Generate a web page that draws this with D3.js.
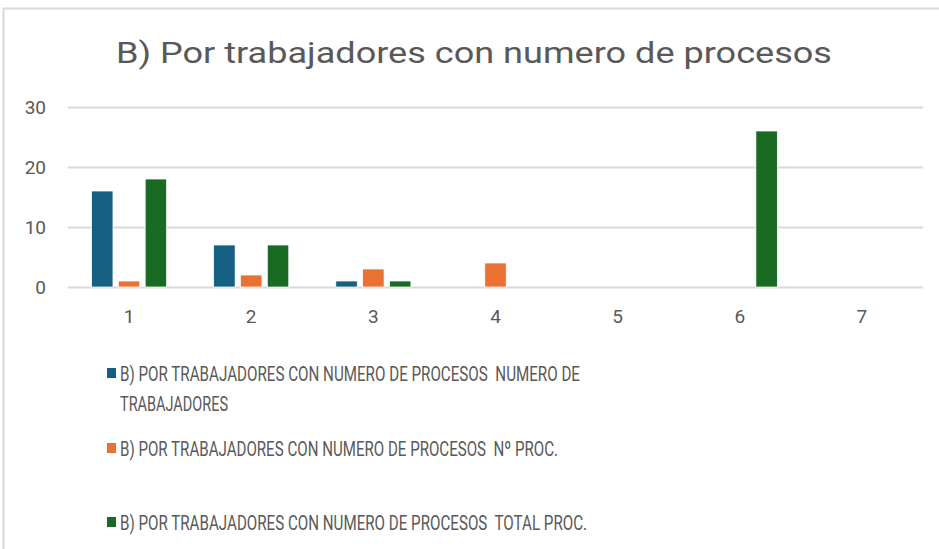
<!DOCTYPE html>
<html>
<head>
<meta charset="utf-8">
<script src="https://cdn.jsdelivr.net/npm/d3@7"></script>
<style>
  body { margin: 0; background: #fff; }
  text { font-family: "Liberation Sans Narrow", "Roboto", "Liberation Sans", sans-serif; fill: #595959; }
</style>
</head>
<body>
<div id="chart"></div>
<script>
/* Grouped bar chart: trabajadores / procesos */

const categories = ["1", "2", "3", "4", "5", "6", "7"];
const seriesNames = [
  "B) POR TRABAJADORES CON NUMERO DE PROCESOS  NUMERO DE TRABAJADORES",
  "B) POR TRABAJADORES CON NUMERO DE PROCESOS  Nº PROC.",
  "B) POR TRABAJADORES CON NUMERO DE PROCESOS  TOTAL PROC."
];
const numTrabajadores = [16, 7, 1, 0, 0, 0, 0];
const numProc = [1, 2, 3, 4, 0, 0, 0];
const totalProc = [18, 7, 1, 0, 0, 26, 0];
const yTicks = [0, 10, 20, 30];
const colors = ["#156082", "#E97132", "#196B24"];

const width = 939, height = 549,
    margin = ({ top: 107, right: 16, bottom: 262, left: 68 });

const svg = d3.select("#chart")
  .append("svg")
  .attr("width", width)
  .attr("height", height);

// chart area border (only top and left visible)
svg.append("path")
  .attr("d", `M3.5,${height} V8.5 H${width}`)
  .attr("fill", "none")
  .attr("stroke", "#d9d9d9")
  .attr("stroke-width", 2);

svg.append("text")
  .attr("x", 474)
  .attr("y", 63)
  .attr("text-anchor", "middle")
  .attr("font-size", 30)
  .attr("textLength", 716)
  .attr("lengthAdjust", "spacingAndGlyphs")
  .style("font-family", "Roboto, sans-serif")
  .text("B) Por trabajadores con numero de procesos");

const values = [numTrabajadores, numProc, totalProc];
const data = categories.map((c, i) => ({ cat: c, vals: values.map(s => s[i]) }));

let x0 = d3.scaleBand()
  .domain(categories)
  .range([margin.left, width - margin.right])
  .paddingInner(0.385)
  .paddingOuter(0.1925);

let x1 = d3.scaleBand()
  .domain(d3.range(seriesNames.length))
  .range([0, x0.bandwidth()])
  .paddingInner(0.2);

let y = d3.scaleLinear()
  .domain([0, 30])
  .range([height - margin.bottom, margin.top]);

// grid lines
svg.append("g")
  .attr("transform", `translate(${margin.left},0)`)
  .call(d3.axisLeft(y).tickValues(yTicks).tickSize(-(width - margin.left - margin.right)).tickFormat(""))
  .call(g => g.select(".domain").remove())
  .call(g => g.selectAll("line").attr("stroke", "#d9d9d9").attr("stroke-width", 2));

// y labels
svg.append("g")
  .attr("transform", `translate(${margin.left - 22},0)`)
  .call(d3.axisLeft(y).tickValues(yTicks).tickSize(0).tickPadding(0))
  .call(g => g.select(".domain").remove())
  .call(g => g.selectAll("text").attr("font-size", 19).attr("fill", "#595959")
    .style("font-family", "Roboto, sans-serif"));

// x labels
svg.append("g")
  .attr("transform", `translate(0,${height - margin.bottom + 22})`)
  .call(d3.axisBottom(x0).tickSize(0).tickPadding(0))
  .call(g => g.select(".domain").remove())
  .call(g => g.selectAll("text").attr("font-size", 19).attr("fill", "#595959")
    .style("font-family", "Roboto, sans-serif"));

// bars
svg.append("g")
  .selectAll("g")
  .data(data)
  .join("g")
    .attr("transform", d => `translate(${x0(d.cat)},0)`)
  .selectAll("rect")
  .data(d => d.vals.map((v, i) => ({ v, i })).filter(e => e.v > 0))
  .join("rect")
    .attr("x", e => x1(e.i))
    .attr("width", x1.bandwidth())
    .attr("y", e => y(e.v))
    .attr("height", e => y(0) - y(e.v))
    .attr("fill", e => colors[e.i])
    .attr("stroke", "#fff")
    .attr("stroke-width", 0.75);

// legend
const legendRows = [
  { i: 0, lines: ["B) POR TRABAJADORES CON NUMERO DE PROCESOS  NUMERO DE", "TRABAJADORES"], y: 373, w: [460, 108] },
  { i: 1, lines: ["B) POR TRABAJADORES CON NUMERO DE PROCESOS  Nº PROC."], y: 448, w: [438] },
  { i: 2, lines: ["B) POR TRABAJADORES CON NUMERO DE PROCESOS  TOTAL PROC."], y: 522, w: [467] }
];

const lg = svg.append("g").selectAll("g")
  .data(legendRows)
  .join("g");

lg.append("rect")
  .attr("x", 107)
  .attr("y", d => d.y - 5)
  .attr("width", 9)
  .attr("height", 10)
  .attr("fill", d => colors[d.i]);

lg.each(function(d) {
  d3.select(this).selectAll("text.line")
    .data(d.lines.map((t, k) => ({ t, k, w: d.w[k], y: d.y + k * 30 })))
    .join("text")
      .attr("class", "line")
      .attr("x", 120)
      .attr("y", e => e.y)
      .attr("dy", "0.36em")
      .attr("font-size", 21)
      .attr("textLength", e => e.w)
      .attr("lengthAdjust", "spacingAndGlyphs")
      .style("white-space", "pre")
      .text(e => e.t);
});
</script>
</body>
</html>
